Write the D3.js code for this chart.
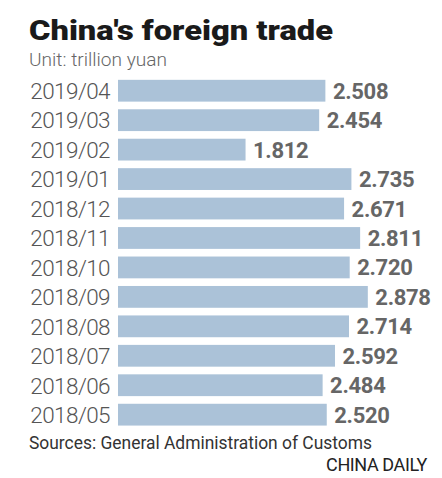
<!DOCTYPE html>
<html><head><meta charset="utf-8">
<script src="https://cdn.jsdelivr.net/npm/d3@7"></script>
<style>
html,body{margin:0;padding:0;background:#fff;}
svg{display:block;}
</style></head>
<body>
<svg id="chart" width="442" height="478"></svg>
<script>
const categories = ["2019/04","2019/03","2019/02","2019/01","2018/12","2018/11","2018/10","2018/09","2018/08","2018/07","2018/06","2018/05"];
const values = [2.508,2.454,1.812,2.735,2.671,2.811,2.720,2.878,2.714,2.592,2.484,2.520];
const valueLabels = ["2.508","2.454","1.812","2.735","2.671","2.811","2.720","2.878","2.714","2.592","2.484","2.520"];
const title = "China's foreign trade";
const subtitle = "Unit: trillion yuan";
const source = "Sources: General Administration of Customs";
const credit = "CHINA DAILY";

const svg = d3.select("#chart");
const x = d3.scaleLinear().domain([0.7, 3.0]).range([118, 118 + 2.3*114.7]);
const y = d3.scaleBand().domain(categories).range([76, 429.4]).paddingInner(0.26).paddingOuter(0.13);

svg.append("text").attr("x",29).attr("y",39.5)
  .attr("font-family","Roboto, 'Liberation Sans', sans-serif").attr("font-weight",900)
  .attr("font-size",28).attr("fill","#1a1a1a").attr("textLength",304).attr("lengthAdjust","spacingAndGlyphs").text(title);
svg.append("text").attr("x",29).attr("y",65.5)
  .attr("font-family","Roboto, sans-serif").attr("font-weight",300)
  .attr("font-size",19).attr("fill","#666").attr("textLength",138).attr("lengthAdjust","spacingAndGlyphs").text(subtitle);

const g = svg.append("g");
g.selectAll("rect").data(values).join("rect")
  .attr("x", x(0.7))
  .attr("y", (d,i)=>y(categories[i]))
  .attr("width", d=>x(d)-x(0.7))
  .attr("height", y.bandwidth())
  .attr("fill","#abc2d8");

g.selectAll("text.cat").data(categories).join("text").attr("class","cat")
  .attr("x",110).attr("y", d=>y(d)+y.bandwidth()/2+8.3)
  .attr("text-anchor","end")
  .attr("font-family","Roboto, sans-serif").attr("font-weight",300)
  .attr("font-size",22.5).attr("fill","#555")
  .attr("letter-spacing",-0.6)
  .text(d=>d);

g.selectAll("text.val").data(values).join("text").attr("class","val")
  .attr("x", d=>x(d)+7.5).attr("y", (d,i)=>y(categories[i])+y.bandwidth()/2+8)
  .attr("font-family","Roboto, sans-serif").attr("font-weight",700)
  .attr("font-size",22).attr("fill","#666")
  .attr("letter-spacing",-0.3)
  .text((d,i)=>valueLabels[i]);

svg.append("text").attr("x",29).attr("y",448.5)
  .attr("font-family","Roboto, sans-serif").attr("font-weight",400)
  .attr("font-size",18).attr("fill","#333").attr("textLength",343).attr("lengthAdjust","spacingAndGlyphs").text(source);
svg.append("text").attr("x",427).attr("y",470.7).attr("text-anchor","end")
  .attr("font-family","Roboto, sans-serif").attr("font-weight",400)
  .attr("font-size",18).attr("fill","#222").attr("letter-spacing",-0.4).text(credit);
</script>
</body></html>
